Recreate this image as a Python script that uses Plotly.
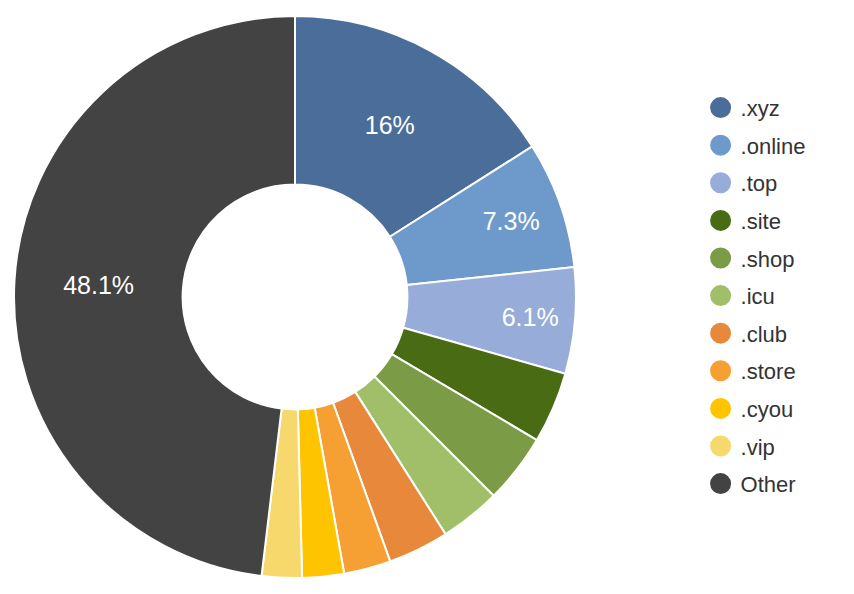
import plotly.graph_objects as go

labels = [".xyz", ".online", ".top", ".site", ".shop", ".icu", ".club", ".store", ".cyou", ".vip", "Other"]
shares = [16.0, 7.3, 6.1, 4.1, 4.0, 3.5, 3.5, 2.7, 2.4, 2.3, 48.1]
colors = ["#4a6d9a", "#6e9acb", "#97acd8", "#486b14", "#7b9b46", "#a0bf68",
          "#e8883a", "#f6a033", "#fec400", "#f7d86c", "#434343"]

# only the big slices get a label
templates = ["%{percent}" if v > 5 else "" for v in shares]

fig = go.Figure()
fig.add_trace(
    go.Pie(
        labels=labels,
        values=shares,
        hole=0.4,
        sort=False,
        direction="clockwise",
        rotation=0,
        marker=dict(colors=colors, line=dict(color="white", width=2)),
        texttemplate=templates,
        textposition="inside",
        insidetextorientation="horizontal",
        textfont=dict(color="white", size=25, family="Liberation Sans, Arial"),
        showlegend=False,
        domain=dict(x=[5 / 854, 569 / 854], y=[24 / 594, 586 / 594]),
    )
)

# circle markers for the legend, one group each so the gap spaces them out
# (legend caps marker size, the outline makes the dots bigger)
for lab, col in zip(labels, colors):
    fig.add_trace(
        go.Scatter(
            x=[None],
            y=[None],
            mode="markers",
            name=lab,
            legendgroup=lab,
            marker=dict(color=col, size=25, symbol="circle", line=dict(color=col, width=5)),
        )
    )

fig.update_layout(
    width=854,
    height=594,
    margin=dict(l=0, r=0, t=0, b=0),
    paper_bgcolor="white",
    plot_bgcolor="white",
    xaxis=dict(visible=False),
    yaxis=dict(visible=False),
    legend=dict(
        x=0.811,
        y=0.5155,
        xanchor="left",
        yanchor="middle",
        font=dict(size=22, color="#333333", family="Liberation Sans, Arial"),
        itemsizing="trace",
        tracegroupgap=6,
        itemwidth=30,
    ),
)

fig.write_html("out.html")
